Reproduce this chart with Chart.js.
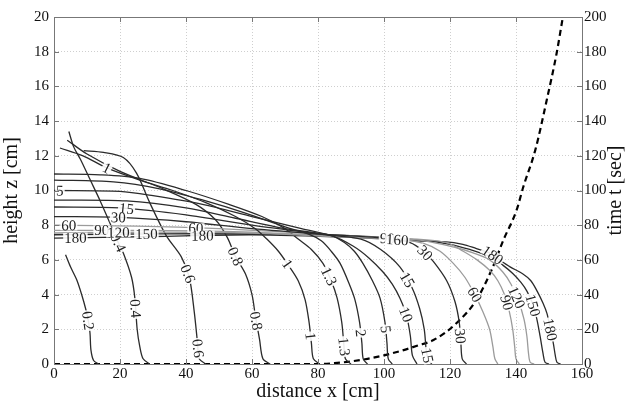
<!DOCTYPE html>
<html>
<head>
<meta charset="utf-8">
<script src="https://cdn.jsdelivr.net/npm/chart.js@4.4.0/dist/chart.umd.min.js"></script>
<style>
  html, body { margin: 0; padding: 0; background: #fff; }
</style>
</head>
<body>
<canvas id="chart" width="629" height="404"></canvas>
<script>
// contour lines, each one is [x (cm), z (cm)]
const c0_2 = [[3.5,6.3],[5,5.6],[7,4.8],[9,3.6],[10.3,2.6],[10.9,1.8],[11.2,0.8],[12,0.2],[13.5,0]];
const c0_4 = [[4.5,13.4],[6,12.5],[8,11.8],[11,10.6],[14,9.4],[17,8.1],[19.2,7.1],[21,6.4],[23.5,5.0],[24.5,3.8],[25.2,2.0],[26,1.0],[27,0.3],[29,0]];
const c0_6 = [[9,12.3],[15,12.2],[21,11.9],[25,11.0],[29,9.3],[34,7.4],[38.5,6.2],[41,5.0],[42.5,3.0],[43.5,1.2],[44,0.3],[46,0]];
const c0_8 = [[4,12.9],[10,12.1],[20,11.1],[33,10.1],[43,9.2],[49,8.3],[52.5,7.3],[55,6.2],[58,5.2],[60,4.0],[61,2.8],[62.3,1.4],[63.3,0.3],[65.5,0]];
const c1 = [[1.8,12.45],[8.8,12.0],[16,11.3],[26,10.6],[36,10.0],[46,9.3],[55,8.5],[61,7.8],[64.5,7.2],[68,6.5],[71,5.7],[74,4.8],[76.1,3.7],[77.3,2.4],[78,1.2],[78.6,0.3],[80.5,0]];
const c1_3 = [[0,10.95],[14,10.9],[26,10.7],[40,10.0],[53,9.2],[63,8.5],[70,7.8],[74,7.2],[78,6.6],[81.5,5.8],[84,4.8],[85.8,3.8],[87.2,2.4],[87.8,1.2],[88.3,0.3],[90,0]];
const c2 = [[0,10.6],[18,10.5],[32,10.1],[46,9.4],[58,8.7],[70,7.9],[77,7.5],[81,7.1],[84,6.5],[86.7,5.8],[89.5,4.6],[91.2,3.7],[92.6,2.4],[93.3,1.2],[93.7,0.3],[95,0]];
const c5 = [[0,10.0],[20,9.95],[30,9.7],[45,9.2],[60,8.5],[75,7.8],[84,7.4],[88,7.0],[91,6.5],[93.6,5.8],[96.5,4.8],[98.8,3.8],[100.3,2.4],[100.9,1.2],[101.3,0.3],[102.5,0]];
const c10 = [[0,9.45],[22,9.4],[40,9.0],[55,8.4],[70,7.8],[84,7.4],[90.6,6.8],[95.5,6.1],[99.7,5.3],[102.5,4.6],[104.8,3.8],[106.8,2.8],[108,1.6],[108.6,0.5],[110,0]];
const c15 = [[0,9.05],[20,9.0],[40,8.6],[60,8.0],[80,7.5],[93,7.2],[99,6.6],[104.8,5.6],[108.5,4.4],[110.8,3.2],[112.2,2.0],[112.8,0.8],[113.5,0.2],[114.5,0]];
const c30 = [[0,8.5],[20,8.45],[40,8.2],[60,7.8],[80,7.5],[100,7.25],[107.9,7.0],[112,6.5],[115,5.9],[119,4.8],[121.5,3.6],[122.8,2.4],[123.3,1.2],[123.7,0.3],[125,0]];
const c60 = [[0,8.0],[25,7.95],[50,7.8],[80,7.5],[105,7.2],[112,6.95],[117,6.5],[121,5.8],[124.5,5.0],[127.5,4.0],[130,3.0],[132,2.0],[133,1.0],[133.6,0.3],[134.5,0]];
const c90 = [[0,7.7],[30,7.7],[60,7.6],[90,7.3],[110,7.2],[119,7.0],[124,6.5],[128.2,6.0],[132,5.4],[134.5,4.8],[136.5,4.0],[138,3.0],[139,2.0],[139.6,1.0],[140,0.3],[141,0]];
const c120 = [[0,7.55],[30,7.6],[60,7.55],[90,7.3],[110,7.15],[122,6.7],[127,6.4],[132,6.0],[136,5.3],[138.5,4.6],[140.8,3.6],[142.4,2.6],[143.3,1.6],[143.8,0.6],[144.3,0.1],[145.5,0]];
const c150 = [[0,7.45],[30,7.5],[60,7.5],[90,7.4],[110,7.15],[120,6.9],[126,6.6],[132,6.2],[136,5.7],[139.1,5.2],[141.5,4.7],[143.3,4.2],[145,3.5],[146.3,2.6],[147.3,1.6],[148.2,0.6],[148.8,0.1],[150,0]];
const c180 = [[0,7.25],[30,7.35],[60,7.45],[90,7.3],[110,7.1],[118,7.05],[123.9,6.9],[128,6.65],[132,6.4],[135,6.0],[138.2,5.6],[142,5.2],[144.5,4.8],[146.4,4.2],[148.2,3.5],[149.4,2.9],[150.4,2.0],[151.3,1.2],[151.9,0.5],[152.4,0.1],[153.5,0]];

const contours = {
  '0.2': c0_2, '0.4': c0_4, '0.6': c0_6, '0.8': c0_8, '1': c1, '1.3': c1_3, '2': c2,
  '5': c5, '10': c10, '15': c15, '30': c30, '60': c60, '90': c90, '120': c120,
  '150': c150, '180': c180
};
const greyLevels = ['60', '90', '120'];

// front arrival time (right axis)
const frontX = [0, 80, 85, 90, 95, 100, 105, 110, 115, 122, 128, 132.6, 136.2, 140.2, 142.2, 145.8, 149.3, 152.3, 154.2];
const frontT = [0, 0, 0.5, 1.5, 3, 5, 7.5, 10.5, 13.8, 23.6, 36.9, 54.2, 71.5, 88.8, 102, 123, 152, 179, 200];

// contour labels: level, x, z, (text if different)
const labelSpots = [
  ['0.2', 10.3, 2.5], ['0.4', 19.5, 7.0], ['0.4', 24.6, 3.2],
  ['0.6', 40.6, 5.2], ['0.6', 43.6, 0.9], ['0.8', 55, 6.2], ['0.8', 61.5, 2.5],
  ['1', 16, 11.3], ['1', 71, 5.8], ['1', 77.6, 1.6], ['1.3', 82.7, 5.0], ['1.3', 87.7, 1.0],
  ['2', 93.3, 1.8], ['5', 1.8, 10.0], ['5', 100.6, 2.0], ['10', 107.3, 2.9],
  ['15', 22, 9.0], ['15', 107.5, 4.9], ['15', 113.2, 0.5],
  ['30', 19.5, 8.45], ['30', 112.4, 6.4], ['30', 123, 1.6],
  ['60', 4.5, 7.95], ['60', 43, 7.8], ['60', 127.5, 4.0],
  ['90', 14.5, 7.7], ['90', 101, 7.3], ['90', 136.6, 3.5],
  ['120', 19.5, 7.58], ['120', 139.8, 3.8], ['150', 28, 7.5], ['150', 145.5, 3.4],
  ['180', 6.5, 7.27], ['180', 45, 7.45], ['180', 133, 6.3], ['180', 150.8, 2.0],
  ['180', 104, 7.15, '160']
];

const xTicks = [0, 20, 40, 60, 80, 100, 120, 140, 160];
const zTicks = [0, 2, 4, 6, 8, 10, 12, 14, 16, 18, 20];
const tTicks = [0, 20, 40, 60, 80, 100, 120, 140, 160, 180, 200];

const serif = '"Liberation Serif", "Times New Roman", serif';

const datasets = Object.keys(contours).map(level => ({
  label: level,
  data: contours[level].map(p => ({x: p[0], y: p[1]})),
  showLine: true,
  borderColor: greyLevels.includes(level) ? '#9b9b9b' : '#2b2b2b',
  borderWidth: 1.3,
  pointRadius: 0,
  tension: 0.3,
  yAxisID: 'y'
}));
datasets.push({
  label: 'front',
  data: frontX.map((x, i) => ({x: x, y: frontT[i]})),
  showLine: true,
  borderColor: '#000',
  borderWidth: 2.2,
  borderDash: [6, 4],
  pointRadius: 0,
  cubicInterpolationMode: 'monotone',
  yAxisID: 'y1'
});

// contour labels + inward ticks + top frame + right title
const extras = {
  id: 'extras',
  afterDatasetsDraw(chart) {
    const ctx = chart.ctx, xs = chart.scales.x, ys = chart.scales.y, ts = chart.scales.y1;
    const a = chart.chartArea;
    ctx.save();
    ctx.font = '15px ' + serif;
    ctx.textAlign = 'center';
    ctx.textBaseline = 'middle';
    labelSpots.forEach(s => {
      const line = contours[s[0]];
      const text = s[3] || s[0];
      const px = xs.getPixelForValue(s[1]), py = ys.getPixelForValue(s[2]);
      let best = Infinity, ang = 0, qx = px, qy = py;
      for (let i = 0; i < line.length - 1; i++) {
        const ax = xs.getPixelForValue(line[i][0]), ay = ys.getPixelForValue(line[i][1]);
        const bx = xs.getPixelForValue(line[i + 1][0]), by = ys.getPixelForValue(line[i + 1][1]);
        const dx = bx - ax, dy = by - ay;
        let u = ((px - ax) * dx + (py - ay) * dy) / (dx * dx + dy * dy || 1);
        u = Math.max(0, Math.min(1, u));
        const cx = ax + u * dx, cy = ay + u * dy;
        const d = Math.hypot(px - cx, py - cy);
        if (d < best) { best = d; ang = Math.atan2(dy, dx); qx = cx; qy = cy; }
      }
      if (ang > Math.PI / 2) ang -= Math.PI;
      if (ang < -Math.PI / 2) ang += Math.PI;
      ctx.save();
      ctx.translate(qx, qy);
      ctx.rotate(ang);
      const w = ctx.measureText(text).width;
      ctx.fillStyle = 'rgba(255,255,255,0.9)';
      ctx.fillRect(-w / 2 - 1, -5, w + 2, 10);
      ctx.fillStyle = '#222';
      ctx.fillText(text, 0, 1);
      ctx.restore();
    });

    // frame and inward ticks
    ctx.strokeStyle = '#777';
    ctx.lineWidth = 1;
    ctx.beginPath();
    ctx.moveTo(a.left, a.top + 0.5);
    ctx.lineTo(a.right, a.top + 0.5);
    xs.ticks.forEach(t => {
      const x = Math.round(xs.getPixelForValue(t.value)) + 0.5;
      ctx.moveTo(x, a.bottom); ctx.lineTo(x, a.bottom - 5);
      ctx.moveTo(x, a.top); ctx.lineTo(x, a.top + 5);
    });
    ys.ticks.forEach(t => {
      const y = Math.round(ys.getPixelForValue(t.value)) + 0.5;
      ctx.moveTo(a.left, y); ctx.lineTo(a.left + 5, y);
    });
    ts.ticks.forEach(t => {
      const y = Math.round(ts.getPixelForValue(t.value)) + 0.5;
      ctx.moveTo(a.right, y); ctx.lineTo(a.right - 5, y);
    });
    ctx.stroke();

    // right axis title, reading bottom to top like the left one
    ctx.save();
    ctx.translate(616, (a.top + a.bottom) / 2);
    ctx.rotate(-Math.PI / 2);
    ctx.font = '20px ' + serif;
    ctx.fillStyle = '#111';
    ctx.fillText('time t [sec]', 0, 0);
    ctx.restore();
    ctx.restore();
  }
};

new Chart(document.getElementById('chart'), {
  type: 'scatter',
  data: { datasets: datasets },
  options: {
    responsive: false,
    animation: false,
    layout: { padding: { top: 17, left: 0, right: 0, bottom: 0 } },
    plugins: { legend: { display: false }, tooltip: { enabled: false } },
    scales: {
      x: {
        type: 'linear', min: 0, max: 160,
        afterBuildTicks: s => { s.ticks = xTicks.map(v => ({value: v})); },
        afterFit: s => { s.height = 40; },
        ticks: { color: '#111', font: { family: serif, size: 15 }, padding: 1, maxRotation: 0 },
        grid: { color: '#cfcfcf', drawTicks: false },
        border: { color: '#777', dash: [1, 2] },
        title: { display: true, text: 'distance x [cm]', color: '#111', font: { family: serif, size: 20 }, padding: { top: 0, bottom: 0 } }
      },
      y: {
        type: 'linear', position: 'left', min: 0, max: 20,
        afterBuildTicks: s => { s.ticks = zTicks.map(v => ({value: v})); },
        afterFit: s => { s.width = 54; },
        ticks: { color: '#111', font: { family: serif, size: 15 }, padding: 5 },
        grid: { color: '#cfcfcf', drawTicks: false },
        border: { color: '#777', dash: [1, 2] },
        title: { display: true, text: 'height z [cm]', color: '#111', font: { family: serif, size: 20 }, padding: { top: 0, bottom: 0 } }
      },
      y1: {
        type: 'linear', position: 'right', min: 0, max: 200,
        afterBuildTicks: s => { s.ticks = tTicks.map(v => ({value: v})); },
        afterFit: s => { s.width = 47; },
        ticks: { color: '#111', font: { family: serif, size: 15 }, padding: 2 },
        grid: { drawOnChartArea: false, drawTicks: false },
        border: { color: '#777' }
      }
    }
  },
  plugins: [extras]
});
</script>
</body>
</html>
